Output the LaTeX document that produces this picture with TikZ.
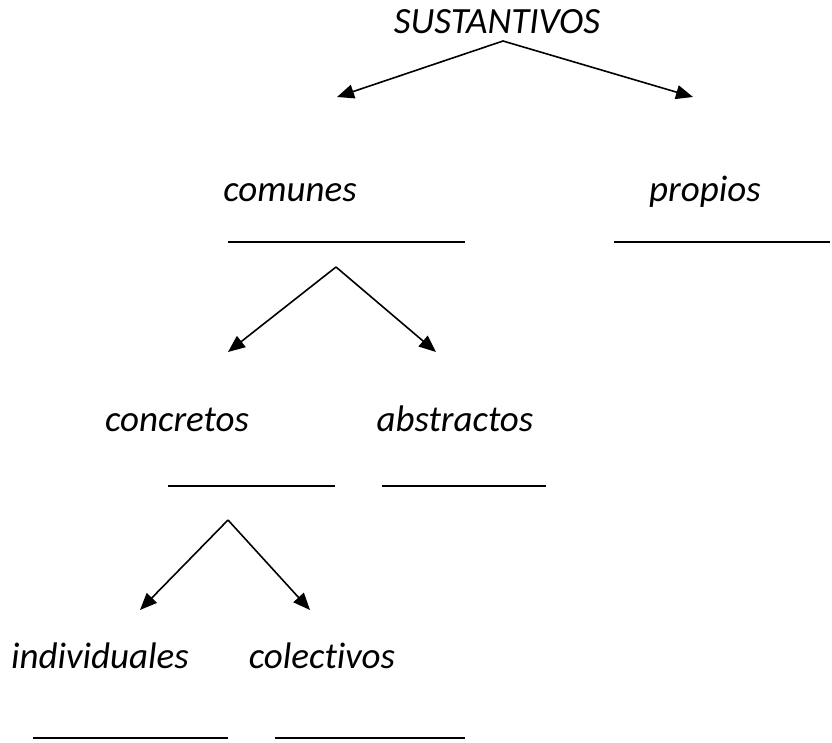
\documentclass[tikz,border=0pt]{standalone}
\usepackage{fontspec}
\setmainfont{Carlito}[Ligatures=NoCommon]
\usetikzlibrary{arrows.meta}
\tikzset{
  lbl/.style={anchor=base,inner sep=0pt,font=\fontsize{37}{44}\selectfont\itshape},
  arr/.style={line width=1.6pt,-{Triangle[length=17pt,width=14pt]}},
  uline/.style={line width=1.6pt}
}
\begin{document}
\begin{tikzpicture}[x=1pt,y=-1pt]
\useasboundingbox (0,0) rectangle (832,742);
% labels
\node[lbl] (sust) at (497,33) {SUSTANTIVOS};
\node[lbl] (com) at (290,201) {comunes};
\node[lbl] (prop) at (705,201) {propios};
\node[lbl] (conc) at (177,431) {concretos};
\node[lbl] (abs) at (455,431) {abstractos};
\node[lbl] (ind) at (100,668) {individuales};
\node[lbl] (col) at (322,668) {colectivos};
% arrow points
\coordinate (a1) at (503,41);
\coordinate (t1l) at (337,97);
\coordinate (t1r) at (693,97);
\coordinate (a2) at (336,267);
\coordinate (t2l) at (228,352);
\coordinate (t2r) at (436,352);
\coordinate (a3) at (228,520);
\coordinate (t3l) at (140,610);
\coordinate (t3r) at (310,610);
\draw[arr] (a1) -- (t1l);
\draw[arr] (a1) -- (t1r);
\draw[arr] (a2) -- (t2l);
\draw[arr] (a2) -- (t2r);
\draw[arr] (a3) -- (t3l);
\draw[arr] (a3) -- (t3r);
% underlines
\coordinate (u1a) at (228,242); \coordinate (u1b) at (465,242);
\coordinate (u2a) at (614,242); \coordinate (u2b) at (830,242);
\coordinate (u3a) at (168,486); \coordinate (u3b) at (335,486);
\coordinate (u4a) at (382,486); \coordinate (u4b) at (546,486);
\coordinate (u5a) at (33,738); \coordinate (u5b) at (228,738);
\coordinate (u6a) at (275,738); \coordinate (u6b) at (465,738);
\draw[uline] (u1a) -- (u1b);
\draw[uline] (u2a) -- (u2b);
\draw[uline] (u3a) -- (u3b);
\draw[uline] (u4a) -- (u4b);
\draw[uline] (u5a) -- (u5b);
\draw[uline] (u6a) -- (u6b);
\end{tikzpicture}
\end{document}
